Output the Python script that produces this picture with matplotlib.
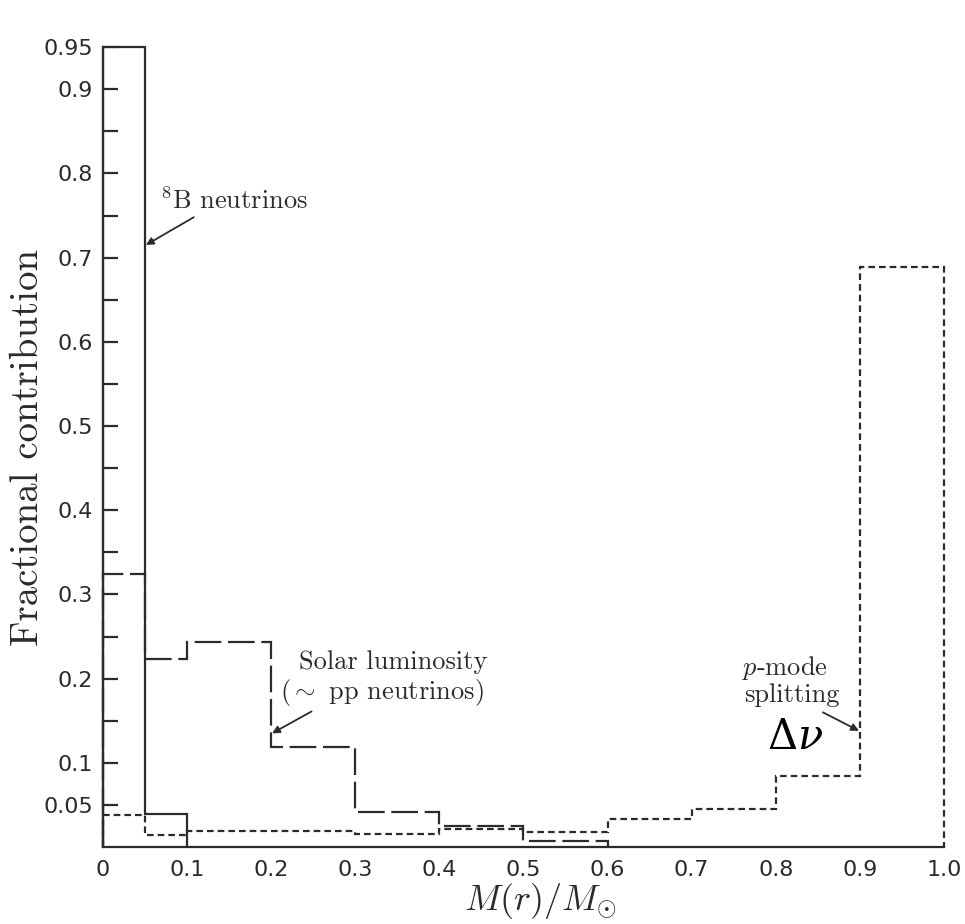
import matplotlib
matplotlib.use("Agg")
import matplotlib.pyplot as plt

# bin edges in M(r)/M_sun
edges_b8 = [0.0, 0.05, 0.1]
b8 = [0.95, 0.039]

edges_lum = [0.0, 0.05, 0.1, 0.2, 0.3, 0.4, 0.5, 0.6]
lum = [0.324, 0.223, 0.243, 0.119, 0.042, 0.025, 0.007]

edges_pmode = [0.0, 0.05, 0.1, 0.3, 0.4, 0.5, 0.6, 0.7, 0.8, 0.9, 1.0]
pmode = [0.038, 0.014, 0.019, 0.015, 0.022, 0.018, 0.033, 0.045, 0.084, 0.689]

yticks = [0.05, 0.1, 0.2, 0.3, 0.4, 0.5, 0.6, 0.7, 0.8, 0.9, 0.95]
ytick_labels = ["0.05", "0.1", "0.2", "0.3", "0.4", "0.5", "0.6", "0.7", "0.8", "0.9", "0.95"]
yminor = [0.15, 0.25, 0.35, 0.45, 0.55, 0.65, 0.75, 0.85]
xticks = [0, 0.1, 0.2, 0.3, 0.4, 0.5, 0.6, 0.7, 0.8, 0.9, 1.0]
xtick_labels = ["0", "0.1", "0.2", "0.3", "0.4", "0.5", "0.6", "0.7", "0.8", "0.9", "1.0"]

ink = "#2b2b2b"
serif = ["cmr10", "DejaVu Serif"]
sans = ["DejaVu Sans"]
plt.rcParams["mathtext.fontset"] = "cm"
plt.rcParams["axes.formatter.use_mathtext"] = True

fig = plt.figure(figsize=(9.65, 9.24), dpi=100)
ax = fig.add_axes([0.1067, 0.0833, 0.8715, 0.8657])

ax.stairs(b8, edges_b8, baseline=0, color=ink, lw=1.6, clip_on=False)
ax.stairs(lum, edges_lum, baseline=0, color=ink, lw=1.6, linestyle=(0, (12, 3)), clip_on=False)
ax.stairs(pmode, edges_pmode, baseline=0, color=ink, lw=1.6, linestyle=(0, (3, 1.8)),
          clip_on=False)

ax.set_xlim(0, 1.0)
ax.set_ylim(0, 0.95)
ax.spines["top"].set_visible(False)
ax.spines["right"].set_visible(False)
for s in ["left", "bottom"]:
    ax.spines[s].set_color(ink)
    ax.spines[s].set_linewidth(1.6)

ax.set_yticks(yticks)
ax.set_yticklabels(ytick_labels, family=sans, fontsize=16, color=ink)
ax.set_yticks(yminor, minor=True)
ax.tick_params(axis="y", which="both", direction="in", length=11, width=1.6, color=ink, pad=7)
ax.set_xticks(xticks)
ax.set_xticklabels(xtick_labels, family=sans, fontsize=16, color=ink)
ax.tick_params(axis="x", length=0, pad=9)

ax.set_ylabel("Fractional contribution", family=serif, fontsize=28, color=ink)
ax.yaxis.set_label_coords(-0.068, 0.50)
ax.set_xlabel(r"$M(r)/M_{\odot}$", fontsize=26, color=ink)
ax.xaxis.set_label_coords(0.52, -0.042)

arrow = dict(arrowstyle="-|>", color=ink, lw=1.3, shrinkA=0, shrinkB=0, mutation_scale=11)
ax.text(0.068, 0.768, r"$^8$B neutrinos", family=serif, fontsize=19, color=ink, va="center")
ax.annotate("", xy=(0.051, 0.715), xytext=(0.108, 0.748), arrowprops=arrow)
ax.text(0.233, 0.220, "Solar luminosity", family=serif, fontsize=19, color=ink, va="center")
ax.text(0.2105, 0.183, r"($\sim$ pp neutrinos)", family=serif, fontsize=19, color=ink,
        va="center")
ax.annotate("", xy=(0.201, 0.135), xytext=(0.248, 0.161), arrowprops=arrow)
ax.text(0.760, 0.213, r"$p$-mode", family=serif, fontsize=19, color=ink, va="center")
ax.text(0.762, 0.180, "splitting", family=serif, fontsize=19, color=ink, va="center")
ax.annotate("", xy=(0.899, 0.138), xytext=(0.856, 0.160), arrowprops=arrow)
ax.text(0.79, 0.131, r"$\Delta\nu$", fontsize=30, color="black", va="center",
        math_fontfamily="dejavuserif")

fig.savefig("out.png", dpi=100)
